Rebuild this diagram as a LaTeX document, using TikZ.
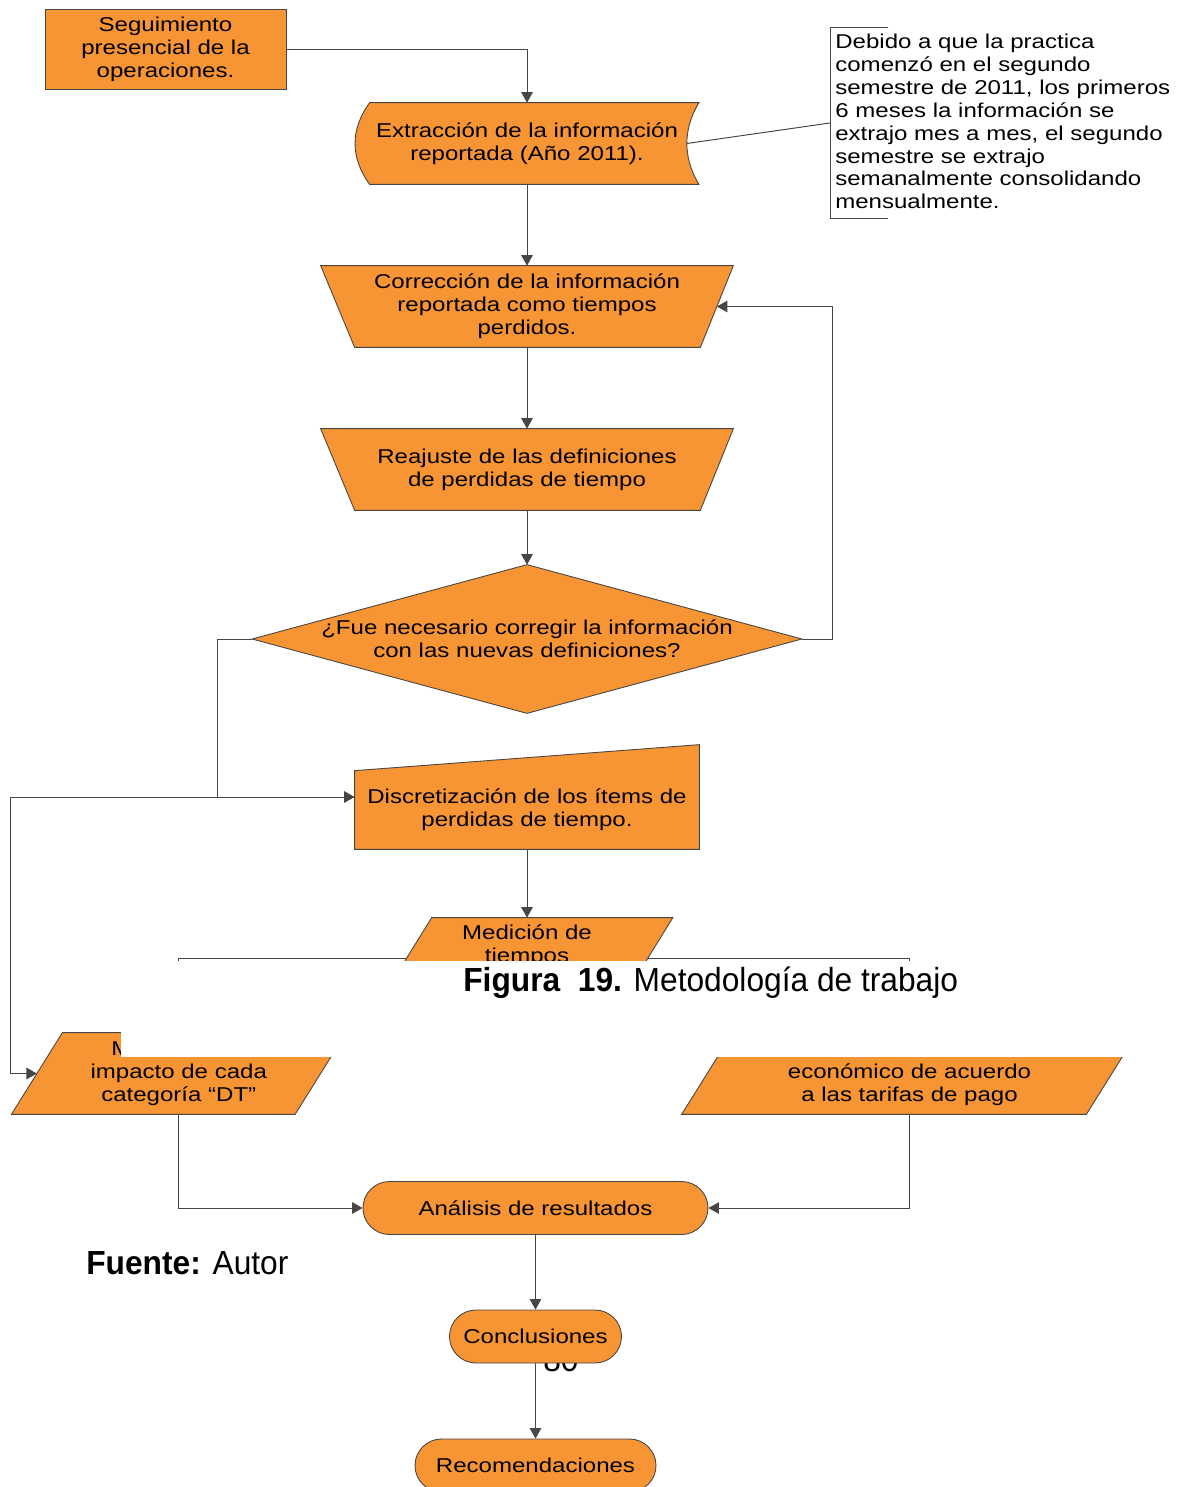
\documentclass[tikz,border=0pt]{standalone}
\usepackage{fontspec}
\setmainfont{Liberation Sans}
\newfontfamily\chartfont{Liberation Sans}[FakeStretch=1.2]
\newfontfamily\capfont{Liberation Sans}[FakeStretch=0.95]
\usetikzlibrary{arrows.meta,shapes.misc,calc,backgrounds}
\definecolor{boxorange}{RGB}{247,148,51}
\definecolor{linegray}{RGB}{70,70,70}
\newcommand{\pxu}{0.02cm}

\begin{document}
\begin{tikzpicture}[
    x=0.02cm, y=-0.02cm,
    >={Triangle[length=6pt,width=6.6pt]},
    box/.style={draw=linegray, line width=0.5pt, fill=boxorange},
    txt/.style={font=\chartfont\fontsize{11.4}{13}\selectfont, align=center, inner sep=0pt},
    proc/.style={box, txt, rectangle, minimum width=241*\pxu, minimum height=80*\pxu},
    term/.style={box, txt, rounded rectangle, minimum height=53*\pxu},
    frame/.style={txt, rectangle, minimum height=81*\pxu},
    flow/.style={draw=linegray, line width=0.55pt},
    caption/.style={font=\capfont\fontsize{19}{22}\selectfont, inner sep=0pt, anchor=base west}
]
    \useasboundingbox (0,0) rectangle (1191,1487);

    \node[proc] (seg) at (165.5,49) {Seguimiento\\presencial de la\\operaciones.};
    \node[frame, minimum width=343*\pxu] (extr) at (527,143.5)
        {Extracción de la información\\reportada (Año 2011).};
    \node[frame, minimum width=412*\pxu] (corr) at (527,306.5)
        {Corrección de la información\\reportada como tiempos\\perdidos.};
    \node[frame, minimum width=412*\pxu] (reaj) at (527,469.5)
        {Reajuste de las definiciones\\de perdidas de tiempo};
    \node[frame, minimum width=549*\pxu, minimum height=148*\pxu] (dec) at (527,639)
        {¿Fue necesario corregir la información\\con las nuevas definiciones?};
    \node[frame, minimum width=344*\pxu, minimum height=104*\pxu] (disc) at (527,797) {};
    \node[txt] (disctxt) at (527,809.5) {Discretización de los ítems de\\perdidas de tiempo.};
    \node[frame, minimum width=291*\pxu] (medi) at (527,958.5) {Medición de\\tiempos\\\strut};
    \node[frame, minimum width=334*\pxu] (imp) at (178.75,1073.5)
        {M\phantom{edición del}\\impacto de cada\\categoría “DT”};
    \node[frame, minimum width=455*\pxu] (costo) at (909.5,1073.5)
        {\phantom{Cálculo del}\\económico de acuerdo\\a las tarifas de pago};
    \node[term, minimum width=345*\pxu] (anal) at (535.5,1208) {Análisis de resultados};
    \node[caption] (pagnum) at (543,1371) {80};
    \node[term, minimum width=172*\pxu] (concl) at (535.5,1336.5) {Conclusiones};
    \node[term, minimum width=241*\pxu] (recom) at (535.5,1465.5) {Recomendaciones};

    \node[txt, align=left, anchor=north west] (nota) at (835,34)
        {Debido a que la practica\\comenzó en el segundo\\semestre de 2011, los primeros\\6 meses la información se\\extrajo mes a mes, el segundo\\semestre se extrajo\\semanalmente consolidando\\mensualmente.};
    \coordinate (notetip) at (830,123);
    \draw[flow, line width=0.5pt] (888,27) -- (830,27) -- (830,218) -- (888,218);

    \begin{pgfonlayer}{background}
        \draw[box] ($(extr.north west)+(14.5,0)$) -- (extr.north east)
            .. controls ($(extr.north east)+(-16,27)$) and ($(extr.south east)+(-16,-27)$) .. (extr.south east)
            -- ($(extr.south west)+(14.5,0)$)
            .. controls ($(extr.south west)+(-5,-27)$) and ($(extr.north west)+(-5,27)$) .. cycle;
        \draw[box] (corr.north west) -- (corr.north east) -- ($(corr.south east)+(-33,0)$)
            -- ($(corr.south west)+(34,0)$) -- cycle;
        \draw[box] (reaj.north west) -- (reaj.north east) -- ($(reaj.south east)+(-33,0)$)
            -- ($(reaj.south west)+(34,0)$) -- cycle;
        \draw[box] (dec.north) -- (dec.east) -- (dec.south) -- (dec.west) -- cycle;
        \draw[box] (disc.south west) -- ($(disc.north west)+(0,26)$) -- (disc.north east)
            -- (disc.south east) -- cycle;
        \draw[box] (medi.south west) -- ($(medi.north west)+(50.5,0)$) -- (medi.north east)
            -- ($(medi.south east)+(-50.5,0)$) -- cycle;
        \draw[box] (imp.south west) -- ($(imp.north west)+(51,0)$) -- (imp.north east)
            -- ($(imp.south east)+(-51,0)$) -- cycle;
        \draw[box] (costo.south west) -- ($(costo.north west)+(51,0)$) -- (costo.north east)
            -- ($(costo.south east)+(-51,0)$) -- cycle;
    \end{pgfonlayer}

    \draw[flow,->] (seg.east) -| (extr.north);
    \draw[flow] ($(extr.east)+(-12,0)$) -- (notetip);
    \draw[flow,->] (extr.south) -- (corr.north);
    \draw[flow,->] (corr.south) -- (reaj.north);
    \draw[flow,->] (reaj.south) -- (dec.north);
    \draw[flow,->] (dec.east) -- ++(31,0) |- ($(corr.east)+(-16.5,0)$);
    \draw[flow,->] (dec.west) -- ++(-35,0) |- (disc.west);
    \draw[flow,->] (disc.west) -- ++(-344,0) |- ($(imp.west)+(25.5,0)$);
    \draw[flow,->] (disc.south) -- (medi.north);
    \draw[flow,->] ($(medi.west)+(25,0)$) -| (imp.north);
    \draw[flow,->] ($(medi.east)+(-25,0)$) -| (costo.north);
    \draw[flow,->] (imp.south) |- (anal.west);
    \draw[flow,->] (costo.south) |- (anal.east);
    \draw[flow,->] (anal.south) -- (concl.north);
    \draw[flow,->] (concl.south) -- (recom.north);

    \fill[white] (121,961) rectangle (1191,1057);
    \node[caption] (figcap) at (463,991) {\textbf{Figura\ \ 19.} Metodología de trabajo};
    \node[caption] (fuente) at (86,1274) {\textbf{Fuente:} Autor};
\end{tikzpicture}
\end{document}
